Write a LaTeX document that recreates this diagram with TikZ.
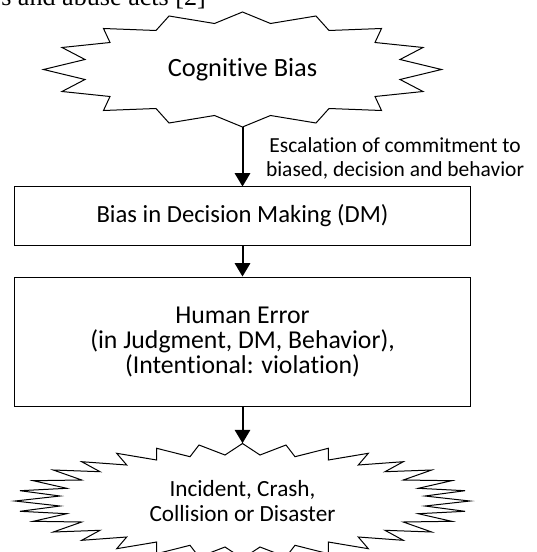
\documentclass[tikz,border=0pt]{standalone}
\usepackage{fontspec}
\setmainfont{Carlito}[Ligatures=NoCommon]
\newfontfamily\seriffont{Liberation Serif}
\usetikzlibrary{arrows.meta,shapes.geometric}
\begin{document}
\begin{tikzpicture}[x=0.75pt,y=-0.75pt,
  burstline/.style={draw=black, line width=0.75pt, line join=miter},
  burstnode/.style={ellipse, inner sep=0pt, align=center},
  boxnode/.style={draw=black, line width=0.75pt, minimum width=342pt, inner sep=0pt, align=center},
  arr/.style={-{Triangle[width=11.5pt,length=10pt]}, line width=1.5pt},
  bigfont/.style={font=\fontsize{19.3}{18.75}\selectfont},
]
\useasboundingbox (0,0) rectangle (536,552);
\clip (0,0) rectangle (536,552);

% cut-off line of the surrounding text
\node[anchor=base west, inner sep=0pt, font=\seriffont\fontsize{19.6}{20}\selectfont] (cut) at (1,6) {s and abuse acts [2]};

% Cognitive Bias burst
\node[burstnode, minimum width=298.5pt, minimum height=86.25pt, font=\fontsize{19.8}{20}\selectfont] (cb) at (242.5,69.5) {Cognitive Bias};
\draw[burstline, shift={(cb.center)}]
  (0,-57.5) -- (-28,-46) -- (-73.5,-53.5) -- (-86.5,-39) -- (-139,-41) -- (-132.5,-27) -- (-180.5,-22) -- (-157.5,-10) -- (-199,0)
  -- (-157.5,10) -- (-180.5,22) -- (-132.5,27) -- (-139,41) -- (-86.5,39) -- (-73.5,53.5) -- (-28,46) -- (0,57.5)
  -- (28,46) -- (73.5,53.5) -- (86.5,39) -- (139,41) -- (132.5,27) -- (180.5,22) -- (157.5,10) -- (199,0)
  -- (157.5,-10) -- (180.5,-22) -- (132.5,-27) -- (139,-41) -- (86.5,-39) -- (73.5,-53.5) -- (28,-46) -- cycle;

% boxes
\node[boxnode, minimum height=43.5pt, font=\fontsize{18.5}{20}\selectfont] (dm) at (242.5,216) {Bias in Decision Making (DM)};
\node[boxnode, minimum height=97.1pt, bigfont] (he) at (242.5,341.75) {Human Error\\(in Judgment, DM, Behavior),\\(Intentional: violation)};

% Incident burst
\node[burstnode, minimum width=341.25pt, minimum height=86.25pt, font=\fontsize{17.4}{18.2}\selectfont] (inc) at (242.5,501) {Incident, Crash,\\Collision or Disaster};
\draw[burstline, shift={(inc.center)}]
  (0,-57.5) -- (-17.5,-46) -- (-43.5,-56) -- (-52.5,-44.3) -- (-85.8,-52.7) -- (-85.8,-41) -- (-125.8,-47.7) -- (-115.8,-36) -- (-160.8,-39.3) -- (-142.5,-29.3) -- (-189.2,-31) -- (-160.8,-21) -- (-209.2,-20.3) -- (-175.8,-12.7) -- (-222.5,-10.3) -- (-182.5,-5) -- (-227.5,0)
  -- (-182.5,5) -- (-222.5,10.3) -- (-175.8,12.7) -- (-209.2,20.3) -- (-160.8,21) -- (-189.2,31) -- (-142.5,29.3) -- (-160.8,39.3) -- (-115.8,36) -- (-125.8,47.7) -- (-85.8,41) -- (-85.8,52.7) -- (-52.5,44.3) -- (-43.5,56) -- (-17.5,46) -- (0,57.5)
  -- (17.5,46) -- (43.5,56) -- (52.5,44.3) -- (85.8,52.7) -- (85.8,41) -- (125.8,47.7) -- (115.8,36) -- (160.8,39.3) -- (142.5,29.3) -- (189.2,31) -- (160.8,21) -- (209.2,20.3) -- (175.8,12.7) -- (222.5,10.3) -- (182.5,5) -- (227.5,0)
  -- (182.5,-5) -- (222.5,-10.3) -- (175.8,-12.7) -- (209.2,-20.3) -- (160.8,-21) -- (189.2,-31) -- (142.5,-29.3) -- (160.8,-39.3) -- (115.8,-36) -- (125.8,-47.7) -- (85.8,-41) -- (85.8,-52.7) -- (52.5,-44.3) -- (43.5,-56) -- (17.5,-46) -- cycle;

% connectors
\draw[arr] (cb.south) -- node[anchor=west, inner sep=0pt, xshift=16.9pt, yshift=-1.1pt, align=center, font=\fontsize{16.1}{17.5}\selectfont] (lbl) {Escalation of commitment to\\biased, decision and behavior} (dm.north);
\draw[arr] (dm.south) -- (he.north);
\draw[arr] (he.south) -- (inc.north);
\end{tikzpicture}
\end{document}
